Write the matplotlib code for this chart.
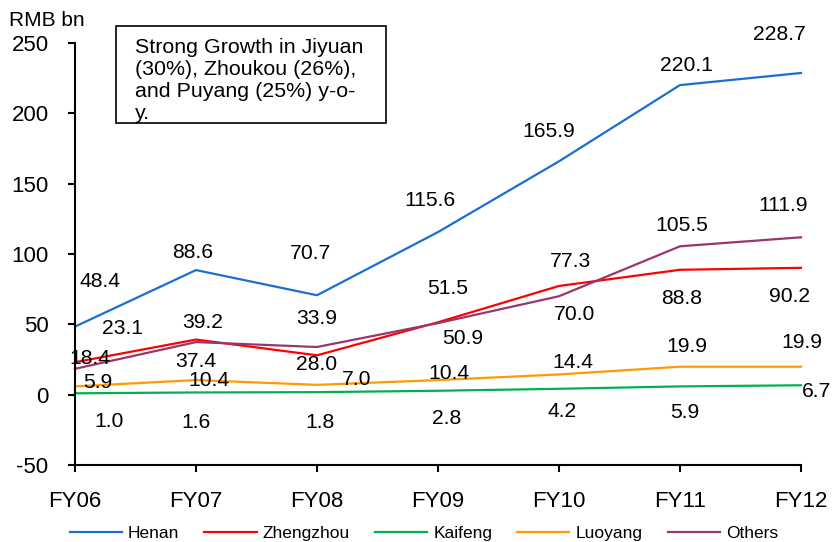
import matplotlib.pyplot as plt
from matplotlib.patches import Rectangle

plt.rcParams['font.family'] = ['Liberation Sans', 'DejaVu Sans']
plt.rcParams['axes.unicode_minus'] = False

years = ["FY06", "FY07", "FY08", "FY09", "FY10", "FY11", "FY12"]
henan = [48.4, 88.6, 70.7, 115.6, 165.9, 220.1, 228.7]
zhengzhou = [23.1, 39.2, 28.0, 51.5, 77.3, 88.8, 90.2]
kaifeng = [1.0, 1.6, 1.8, 2.8, 4.2, 5.9, 6.7]
luoyang = [5.9, 10.4, 7.0, 10.4, 14.4, 19.9, 19.9]
others = [18.4, 37.4, 33.9, 50.9, 70.0, 105.5, 111.9]

names = ["Henan", "Zhengzhou", "Kaifeng", "Luoyang", "Others"]
series = [henan, zhengzhou, kaifeng, luoyang, others]
colors = ["#1a6fd0", "#ff0000", "#00b050", "#ff9a00", "#98376c"]

# label offsets in pixels (dx, dy) per point, dy positive = up
offs = {
    "Henan": [(25, 45), (-3, 18), (-6, 42), (-8, 32), (-10, 30), (6, 20), (-22, 38)],
    "Zhengzhou": [(48, 34), (7, 17), (0, -9), (10, 34), (12, 24), (2, -29), (-11, -29)],
    "Kaifeng": [(34, -28), (0, -30), (3, -30), (9, -28), (3, -23), (5, -26), (16, -6)],
    "Luoyang": [(23, 4), (13, 0), (40, 5), (11, 7), (14, 12), (7, 20), (1, 24)],
    "Others": [(15, 10), (0, -19), (0, 29), (25, -15), (16, -18), (2, 21), (-18, 32)],
}

fig = plt.figure(figsize=(8.36, 5.42), dpi=100)
ax = fig.add_axes([0.0897, 0.142, 0.8684, 0.7786])

x = list(range(len(years)))
for name, vals, c in zip(names, series, colors):
    ax.plot(x, vals, color=c, lw=1.6, label=name, clip_on=False)
    for xi, v, (dx, dy) in zip(x, vals, offs[name]):
        ax.annotate(f"{v:.1f}", (xi, v), xytext=(dx, dy), textcoords="offset pixels",
                    ha="center", va="center", fontsize=15.2, color="black")

ax.set_xlim(0, 6)
ax.set_ylim(-50, 250)
ax.set_yticks(range(-50, 251, 50))
ax.set_xticks(x)
ax.set_xticklabels(years)
for s in ["top", "right"]:
    ax.spines[s].set_visible(False)
for s in ["left", "bottom"]:
    ax.spines[s].set_linewidth(1.5)
ax.tick_params(axis="y", direction="out", length=5, width=1.5, pad=14, labelsize=16)
ax.tick_params(axis="x", direction="out", length=5, width=1.5, pad=14, labelsize=16)

fig.text(9 / 836, 1 - 20 / 542, "RMB bn", ha="left", va="center", fontsize=15)

# note box, text runs past the frame
fig.patches.append(Rectangle((116 / 836, 1 - 123 / 542), 270 / 836, 97 / 542,
                             transform=fig.transFigure, fill=False, ec="black", lw=1.2))
fig.text(135 / 836, 1 - 38 / 542,
         "Strong Growth in Jiyuan\n(30%), Zhoukou (26%),\nand Puyang (25%) y-o-\ny.",
         ha="left", va="top", fontsize=15.4, linespacing=1.2)

fig.legend(loc="center", bbox_to_anchor=(0.507, 1 - 533 / 542), ncol=5, frameon=False,
           fontsize=12.5, handlelength=3.0, handletextpad=0.35, columnspacing=1.45)

fig.savefig("out.png", dpi=100)
